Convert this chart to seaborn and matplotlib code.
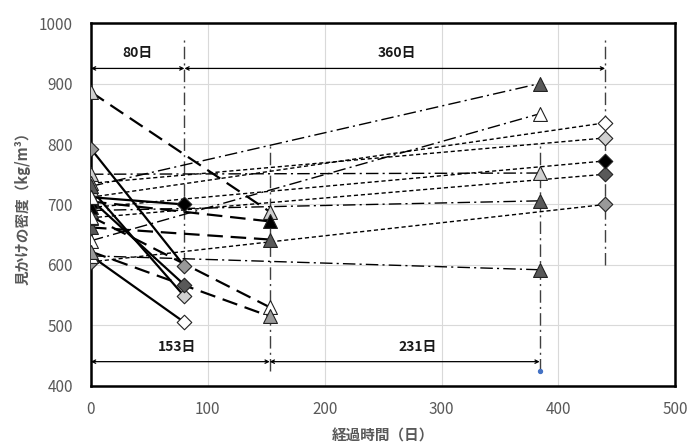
import matplotlib
matplotlib.use('Agg')
import matplotlib.pyplot as plt
import seaborn as sns
import pandas as pd

# 0 -> 80 days, solid lines
solid_start = [792, 725, 708, 712, 615]
solid_end = [598, 548, 567, 700, 505]
solid_fill = ['#999999', '#d0d0d0', '#595959', '#000000', '#ffffff']
solid_start_marker = ['D', '^', '^', '^', '^']

# 0 -> 153 days, long dashes
ldash_start = [886, 705, 662, 680, 622]
ldash_end = [688, 672, 642, 530, 515]
ldash_fill = ['#d0d0d0', '#000000', '#595959', '#ffffff', '#999999']

# 0 -> 384 days, dash-dot
dd_start = [730, 640, 750, 690, 615]
dd_end = [900, 850, 752, 706, 592]
dd_fill = ['#595959', '#ffffff', '#d0d0d0', '#595959', '#595959']

# 0 -> 440 days, short dashes
sd_start = [712, 735, 695, 678, 605]
sd_end = [835, 810, 772, 750, 700]
sd_fill = ['#ffffff', '#d0d0d0', '#000000', '#595959', '#999999']
sd_start_marker = ['^', '^', '^', '^', 'D']

# reference lines and spans
ref_days = [80, 153, 384, 440]
ref_low = [600, 425, 425, 600]
ref_high = [975, 798, 798, 975]
span_from = [0, 80, 0, 153]
span_to = [80, 440, 153, 384]
span_y = [925, 925, 440, 440]
span_label = ['80日', '360日', '153日', '231日']
label_x = [40, 262, 74, 280]
label_y = [950, 950, 464, 464]

groups = [
    (80, solid_start, solid_end, solid_fill, solid_start_marker, 'D', '-', 1.6),
    (153, ldash_start, ldash_end, ldash_fill, ['^'] * 5, '^', (0, (7, 3.5)), 1.6),
    (384, dd_start, dd_end, dd_fill, ['^'] * 5, '^', (0, (9, 3, 1.5, 3)), 1.0),
    (440, sd_start, sd_end, sd_fill, sd_start_marker, 'D', (0, (3, 2)), 1.0),
]

rows = []
for gi, (day, ys, ye, fills, m0, m1, ls, lw) in enumerate(groups):
    for i in range(len(ys)):
        rows.append(dict(series=f'{gi}-{i}', day=0, density=ys[i], fill=fills[i], marker=m0[i], ls=ls, lw=lw))
        rows.append(dict(series=f'{gi}-{i}', day=day, density=ye[i], fill=fills[i], marker=m1, ls=ls, lw=lw))
df = pd.DataFrame(rows)

sns.set_theme(style='white')
plt.rcParams['font.family'] = ['Noto Sans CJK JP', 'DejaVu Sans']

fig = plt.figure(figsize=(6.89, 4.44), dpi=100)
ax = fig.add_axes([0.132, 0.131, 0.848, 0.817])

for x, lo, hi in zip(ref_days, ref_low, ref_high):
    ax.plot([x, x], [lo, hi], color='#404040', lw=1.0, linestyle=(0, (9, 3, 1.5, 3)), zorder=2)

for name, g in df.groupby('series', sort=False):
    sns.lineplot(data=g, x='day', y='density', ax=ax, color='black',
                 linestyle=g['ls'].iloc[0], lw=g['lw'].iloc[0], zorder=3)

for (m, f), g in df.groupby(['marker', 'fill'], sort=False):
    size = 100 if m == '^' else 55
    sns.scatterplot(data=g, x='day', y='density', ax=ax, marker=m, color=f,
                    edgecolor='#222222', linewidth=0.8, s=size, zorder=4)

ax.scatter([384], [425], s=8, color='#4472c4', zorder=5)

for x0, x1, y in zip(span_from, span_to, span_y):
    ax.annotate('', xy=(x1, y), xytext=(x0, y),
                arrowprops=dict(arrowstyle='<->', lw=0.9, color='black',
                                shrinkA=0, shrinkB=0, mutation_scale=6))
for t, x, y in zip(span_label, label_x, label_y):
    ax.text(x, y, t, ha='center', va='center', fontsize=10, fontweight='bold', color='#1a1a1a')

ax.set_xlim(0, 500)
ax.set_ylim(400, 1000)
ax.set_xticks(range(0, 501, 100))
ax.set_yticks(range(400, 1001, 100))
ax.grid(True, color='#d9d9d9', lw=0.8)
ax.set_axisbelow(True)
for sp in ax.spines.values():
    sp.set_color('black')
    sp.set_linewidth(1.8)
ax.tick_params(axis='both', length=0, labelsize=11, labelcolor='#595959')
ax.tick_params(axis='y', pad=13)
ax.tick_params(axis='x', pad=11)
ax.set_xlabel('経過時間（日）', fontsize=10.5, fontweight='bold', color='#595959', labelpad=7)
ax.set_ylabel('見かけの密度（kg/m³）', fontsize=10.5, fontweight='bold', color='#595959', labelpad=6)
if ax.get_legend():
    ax.get_legend().remove()

fig.savefig('out.png', dpi=100)
